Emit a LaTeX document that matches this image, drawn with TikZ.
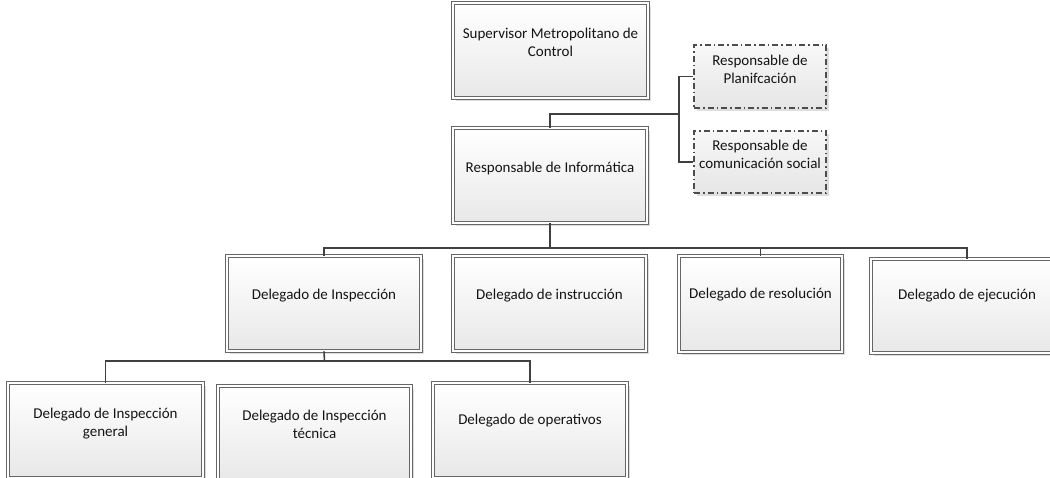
\documentclass[tikz,border=0pt]{standalone}
\usepackage{fontspec}
\setmainfont{Carlito}
\usetikzlibrary{shadows}
\begin{document}
\begin{tikzpicture}[x=1pt,y=-1pt,
  orgbox/.style={rectangle, draw=black!60, line width=0.8pt, double=white, double distance=2pt,
     top color=white, bottom color=black!9,
     drop shadow={shadow xshift=3pt, shadow yshift=-3pt, fill=black!13, opacity=1},
     inner sep=0pt},
  auxbox/.style={rectangle, draw=black!70, line width=1.1pt,
     dash pattern=on 6pt off 3pt on 1.5pt off 3pt,
     top color=black!3, bottom color=black!10,
     drop shadow={shadow xshift=3pt, shadow yshift=-3pt, fill=black!13, opacity=1},
     inner sep=0pt},
  txt/.style={font=\fontsize{15}{18}\selectfont, text=black!92, align=center, inner sep=0pt},
  conn/.style={draw=black!75, line width=1.6pt}
]
\useasboundingbox (0,0) rectangle (1050,477);
\clip (0,0) rectangle (1050,477);
\fill[white] (0,0) rectangle (1050,477);

% boxes
\node[orgbox, minimum width=195pt, minimum height=95pt] (sup) at (550.5,50.5) {};
\node[orgbox, minimum width=194pt, minimum height=95pt] (inf) at (550,175.5) {};
\node[auxbox, minimum width=132pt, minimum height=63pt] (plan) at (760,76.5) {};
\node[auxbox, minimum width=132pt, minimum height=62pt] (com) at (760,162) {};
\node[orgbox, minimum width=194pt, minimum height=95pt] (insp) at (324,303.5) {};
\node[orgbox, minimum width=193pt, minimum height=95pt] (instr) at (549.5,303.5) {};
\node[orgbox, minimum width=163pt, minimum height=96pt] (reso) at (760.5,304) {};
\node[orgbox, minimum width=192pt, minimum height=94pt] (ejec) at (967,306) {};
\node[orgbox, minimum width=195pt, minimum height=95pt] (gen) at (105.5,430.5) {};
\node[orgbox, minimum width=193pt, minimum height=95pt] (tec) at (314.5,433.5) {};
\node[orgbox, minimum width=194pt, minimum height=95pt] (oper) at (530,430.5) {};

% texts
\node[txt] (tsup) at ([yshift=8pt]sup.center) {Supervisor Metropolitano de\\Control};
\node[txt] (tinf) at ([yshift=7pt]inf.center) {Responsable de Informática};
\node[txt] (tplan) at ([yshift=7pt]plan.center) {Responsable de\\Planifcación};
\node[txt] (tcom) at ([yshift=8pt]com.center) {Responsable de\\comunicación social};
\node[txt] (tinsp) at ([yshift=8pt]insp.center) {Delegado de Inspección};
\node[txt] (tinstr) at ([yshift=8pt]instr.center) {Delegado de instrucción};
\node[txt] (treso) at ([yshift=9pt]reso.center) {Delegado de resolución};
\node[txt] (tejec) at ([yshift=10pt]ejec.center) {Delegado de ejecución};
\node[txt] (tgen) at ([yshift=7pt]gen.center) {Delegado de Inspección\\general};
\node[txt] (ttec) at ([yshift=9pt]tec.center) {Delegado de Inspección\\técnica};
\node[txt] (toper) at ([yshift=10pt]oper.center) {Delegado de operativos};

% connectors
\coordinate (bA) at (679,114);
\draw[conn] (inf.north) |- (bA);
\draw[conn] (plan.west) -| (bA) |- (com.west);

\coordinate (bB) at (550,248);
\draw[conn] (inf.south) -- (bB);
\draw[conn] (insp.north) |- (bB) -| (ejec.north);
\draw[conn] (reso.north) -- (reso.north |- bB);

\coordinate (bC) at (324.5,361);
\draw[conn] (insp.south) -- (bC);
\draw[conn] (gen.north) |- (bC) -| (oper.north);
\end{tikzpicture}
\end{document}
